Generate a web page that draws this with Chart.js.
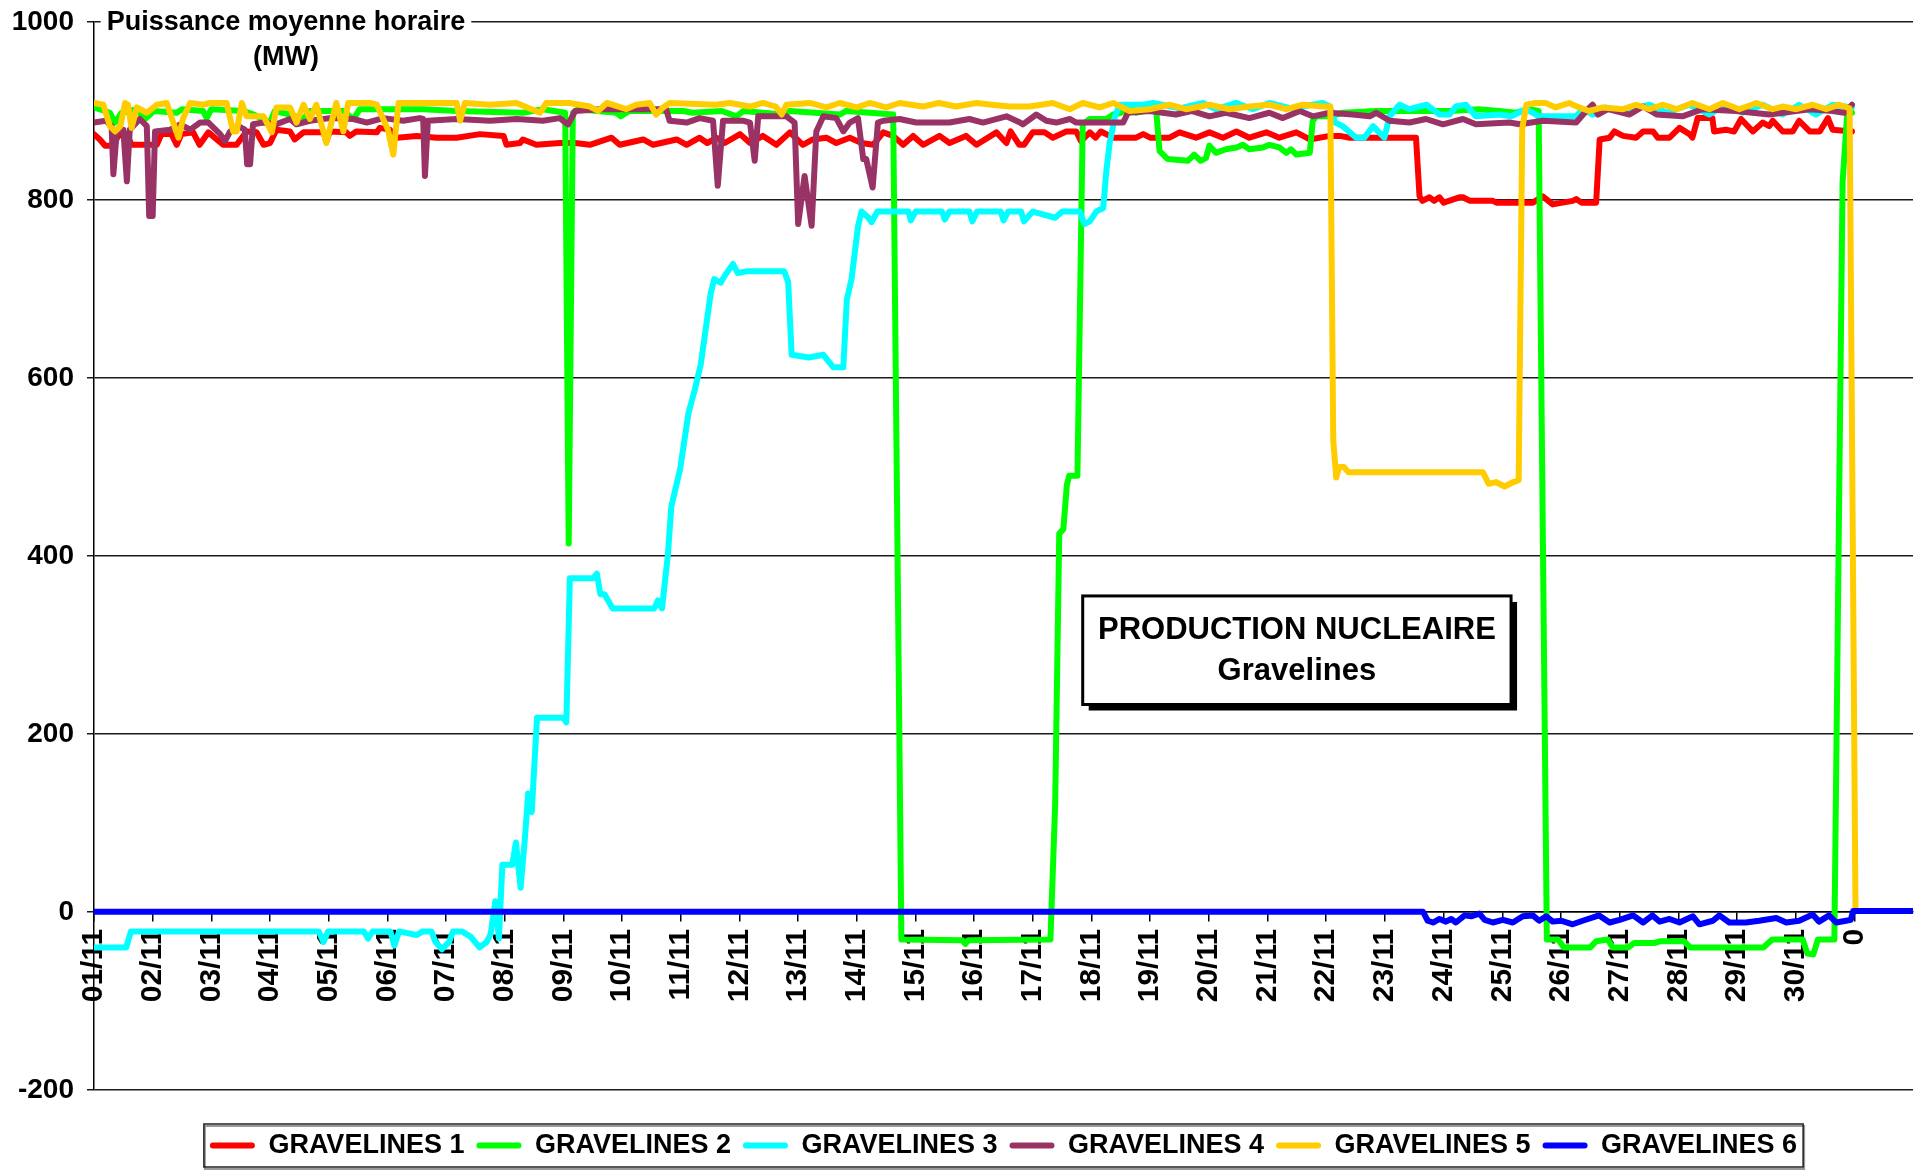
<!DOCTYPE html>
<html>
<head>
<meta charset="utf-8">
<title>Production nucléaire Gravelines</title>
<script src="https://cdn.jsdelivr.net/npm/chart.js@4.4.0/dist/chart.umd.min.js"></script>
<style>
  html, body { margin: 0; padding: 0; background: #fff; }
  canvas { display: block; }
</style>
</head>
<body>
<canvas id="prodChart" width="1922" height="1171"></canvas>
<script>
// jours (0 = 01/11 0h) et puissance en MW
const tickLabels = ["01/11", "02/11", "03/11", "04/11", "05/11", "06/11", "07/11", "08/11", "09/11", "10/11",
  "11/11", "12/11", "13/11", "14/11", "15/11", "16/11", "17/11", "18/11", "19/11", "20/11",
  "21/11", "22/11", "23/11", "24/11", "25/11", "26/11", "27/11", "28/11", "29/11", "30/11", "0"];

const seriesNames = ["GRAVELINES 1", "GRAVELINES 2", "GRAVELINES 3", "GRAVELINES 4", "GRAVELINES 5", "GRAVELINES 6"];
const seriesColors = ["#ff0000", "#00ff00", "#00ffff", "#993366", "#ffcc00", "#0000ff"];

const g1 = [[0,874],[0.1,868],[0.19,861],[0.33,861],[0.41,872],[0.56,874],[0.64,862],[1.07,862],[1.15,874],[1.32,874],[1.41,862],[1.49,874],[1.69,876],[1.8,862],[1.95,876],[2.2,862],[2.43,862],[2.6,877],[2.77,876],[2.89,862],[3.0,864],[3.11,879],[3.34,877],[3.42,868],[3.57,876],[3.91,876],[3.96,866],[4.02,877],[4.3,876],[4.36,872],[4.47,877],[4.82,876],[4.87,881],[5.04,879],[5.16,870],[5.5,872],[5.84,870],[6.18,870],[6.58,874],[6.98,872],[7.03,862],[7.26,864],[7.31,868],[7.54,862],[7.94,864],[8.2,864],[8.45,862],[8.82,870],[8.96,862],[9.36,868],[9.53,862],[9.93,868],[10.1,862],[10.32,870],[10.45,864],[10.61,870],[10.75,864],[11.01,874],[11.18,864],[11.4,872],[11.63,862],[11.86,876],[12.08,862],[12.25,868],[12.48,870],[12.65,864],[12.88,870],[13.08,864],[13.28,862],[13.45,876],[13.62,872],[13.79,862],[13.96,872],[14.13,862],[14.41,872],[14.58,864],[14.86,872],[15.04,862],[15.38,876],[15.55,864],[15.62,877],[15.77,862],[15.85,862],[16.0,876],[16.2,876],[16.34,870],[16.57,877],[16.74,877],[16.82,866],[16.97,876],[17.07,870],[17.16,877],[17.37,870],[17.76,870],[17.88,874],[18.0,870],[18.33,870],[18.5,876],[18.78,870],[19.01,876],[19.24,870],[19.47,877],[19.69,870],[19.98,876],[20.2,870],[20.49,876],[20.72,868],[21.06,872],[21.23,872],[21.4,870],[22.53,870],[22.59,804],[22.64,799],[22.76,803],[22.84,799],[22.93,803],[23.0,797],[23.27,803],[23.33,803],[23.45,799],[23.84,799],[23.9,797],[24.52,797],[24.69,804],[24.86,795],[25.2,799],[25.26,801],[25.35,797],[25.6,797],[25.66,868],[25.83,870],[25.91,877],[26.06,872],[26.28,870],[26.4,877],[26.57,877],[26.65,870],[26.85,870],[27.02,881],[27.19,874],[27.24,870],[27.33,892],[27.58,892],[27.61,877],[27.81,879],[27.95,877],[28.07,891],[28.27,877],[28.44,887],[28.55,883],[28.61,889],[28.78,877],[28.95,877],[29.06,889],[29.24,877],[29.41,877],[29.55,892],[29.63,879],[29.96,877]];

const g2 = [[0,904],[0.27,898],[0.36,887],[0.47,898],[0.73,902],[0.87,891],[1.02,900],[1.41,898],[1.5,902],[1.86,900],[1.92,892],[2.0,902],[2.55,900],[2.72,896],[3.0,887],[3.08,900],[3.34,896],[3.57,891],[3.68,900],[4.25,900],[4.42,891],[4.53,902],[5.61,902],[6.18,900],[7.31,898],[7.65,902],[8.03,898],[8.09,414],[8.16,898],[8.25,902],[8.9,898],[8.98,894],[9.12,900],[10.04,900],[10.2,898],[10.7,900],[10.95,894],[11.07,900],[11.74,896],[11.86,900],[12.71,896],[12.82,900],[13.22,898],[13.62,896],[13.76,-31],[14.8,-32],[14.85,-36],[14.9,-32],[16.3,-31],[16.38,120],[16.45,425],[16.52,430],[16.58,480],[16.62,490],[16.76,490],[16.85,885],[16.97,891],[17.25,891],[17.37,896],[17.5,898],[17.65,905],[17.76,898],[17.88,900],[17.99,905],[18.1,902],[18.16,855],[18.3,846],[18.64,844],[18.75,851],[18.86,844],[18.95,847],[19.01,861],[19.12,853],[19.29,857],[19.47,859],[19.58,862],[19.69,857],[19.92,859],[20.03,862],[20.2,859],[20.32,853],[20.4,857],[20.49,851],[20.72,853],[20.77,889],[20.83,894],[21.06,894],[21.28,898],[21.85,900],[23.1,900],[23.6,902],[23.95,900],[24.23,898],[24.46,902],[24.62,900],[24.76,-31],[24.95,-31],[25.05,-40],[25.5,-40],[25.6,-33],[25.8,-31],[25.88,-40],[26.15,-40],[26.25,-35],[26.6,-35],[26.7,-33],[27.1,-33],[27.2,-40],[28.45,-40],[28.6,-31],[29.12,-31],[29.2,-47],[29.3,-48],[29.38,-31],[29.66,-31],[29.8,820],[29.88,898],[29.96,898]];

const g3 = [[0,-40],[0.55,-40],[0.63,-22],[3.57,-22],[3.83,-22],[3.91,-34],[3.99,-22],[4.29,-22],[4.6,-22],[4.67,-30],[4.75,-22],[5.05,-22],[5.12,-38],[5.2,-22],[5.5,-26],[5.6,-22],[5.75,-22],[5.82,-34],[5.93,-42],[6.05,-34],[6.12,-22],[6.27,-22],[6.42,-28],[6.57,-40],[6.69,-34],[6.76,-25],[6.84,12],[6.9,-30],[6.96,53],[7.13,53],[7.19,78],[7.27,27],[7.34,80],[7.4,133],[7.46,112],[7.55,218],[8.0,218],[8.05,213],[8.11,375],[8.51,375],[8.57,380],[8.63,357],[8.7,357],[8.84,341],[9.55,341],[9.61,350],[9.68,341],[9.78,401],[9.84,456],[9.99,498],[10.13,560],[10.24,587],[10.34,615],[10.51,695],[10.57,711],[10.68,707],[10.76,716],[10.89,728],[10.97,718],[11.14,720],[11.76,720],[11.83,708],[11.89,626],[12.18,623],[12.43,626],[12.6,612],[12.77,612],[12.83,688],[12.91,711],[13.02,770],[13.08,787],[13.2,780],[13.25,775],[13.35,787],[13.88,787],[13.92,777],[14.0,787],[14.45,787],[14.5,778],[14.58,787],[14.92,787],[14.97,776],[15.05,787],[15.45,787],[15.5,777],[15.58,787],[15.8,787],[15.85,776],[16.0,787],[16.38,780],[16.5,787],[16.8,787],[16.88,773],[16.97,776],[17.08,787],[17.2,791],[17.25,831],[17.31,864],[17.4,894],[17.48,907],[17.88,907],[18.05,909],[18.5,903],[18.9,909],[19.12,902],[19.47,909],[19.75,902],[20.03,909],[20.4,903],[20.94,909],[21.06,905],[21.15,887],[21.28,883],[21.51,870],[21.65,870],[21.8,883],[21.9,876],[21.99,870],[22.08,894],[22.25,907],[22.42,902],[22.71,907],[22.93,896],[23.1,896],[23.21,905],[23.38,907],[23.55,894],[23.95,896],[24.15,894],[24.4,902],[24.63,894],[25.26,894],[25.37,902],[25.54,896],[25.75,904],[26.06,900],[26.51,907],[26.8,898],[27.19,907],[27.53,896],[27.81,907],[28.1,898],[28.44,907],[28.78,896],[29.06,907],[29.35,896],[29.63,907],[29.96,904]];

const g4 = [[0,887],[0.2,889],[0.3,883],[0.33,829],[0.39,879],[0.5,879],[0.56,821],[0.61,879],[0.78,891],[0.9,883],[0.94,782],[1.0,782],[1.04,877],[1.3,879],[1.47,885],[1.64,879],[1.81,887],[1.95,887],[2.15,874],[2.23,866],[2.32,877],[2.46,883],[2.57,879],[2.61,840],[2.66,840],[2.71,885],[2.89,887],[3.1,885],[3.34,891],[3.45,885],[3.68,889],[4.02,892],[4.42,891],[4.65,887],[4.93,892],[5.27,889],[5.55,892],[5.61,891],[5.64,827],[5.69,889],[6.18,891],[6.75,889],[7.2,891],[7.65,889],[7.94,892],[8.03,887],[8.08,885],[8.2,900],[8.62,902],[9.47,902],[9.75,902],[9.81,889],[10.1,887],[10.32,892],[10.55,889],[10.63,816],[10.72,889],[11.07,889],[11.18,887],[11.26,844],[11.32,894],[11.8,894],[11.94,887],[12.0,773],[12.11,827],[12.23,771],[12.31,877],[12.43,894],[12.65,892],[12.77,877],[12.88,887],[13.02,892],[13.11,846],[13.16,846],[13.27,814],[13.36,887],[13.45,889],[13.73,891],[14.01,887],[14.58,887],[14.92,891],[15.15,887],[15.55,894],[15.78,887],[15.83,885],[16.06,896],[16.23,889],[16.4,887],[16.63,891],[16.74,887],[17.54,887],[17.62,898],[17.99,900],[18.44,896],[18.7,900],[19.01,894],[19.29,898],[19.69,892],[20.03,898],[20.26,892],[20.55,900],[20.77,894],[21.06,898],[21.45,896],[21.74,894],[21.85,898],[22.08,889],[22.42,887],[22.7,891],[22.99,885],[23.33,891],[23.55,885],[24.12,887],[24.3,885],[24.69,889],[25.26,887],[25.43,900],[25.54,907],[25.63,896],[25.8,902],[26.17,896],[26.4,905],[26.63,896],[27.07,894],[27.41,902],[27.98,900],[28.55,896],[28.78,898],[29.24,902],[29.63,900],[29.83,898],[29.96,907]];

const g5 = [[0,909],[0.16,907],[0.27,883],[0.36,877],[0.45,883],[0.53,909],[0.58,907],[0.64,881],[0.73,904],[0.9,898],[1.07,907],[1.24,909],[1.35,887],[1.44,870],[1.52,892],[1.64,909],[1.86,907],[1.98,909],[2.26,909],[2.37,877],[2.43,877],[2.52,909],[2.6,894],[2.89,894],[3.03,876],[3.11,904],[3.34,904],[3.45,887],[3.57,907],[3.68,891],[3.79,907],[3.96,864],[4.13,909],[4.25,877],[4.33,909],[4.7,909],[4.82,907],[5.01,879],[5.1,851],[5.19,909],[5.61,909],[6.18,909],[6.24,889],[6.32,909],[6.75,907],[7.2,909],[7.6,898],[7.71,909],[8.1,909],[8.45,905],[8.59,900],[8.74,909],[9.07,902],[9.24,907],[9.47,909],[9.58,896],[9.7,904],[9.81,909],[10.6,907],[10.84,909],[11.18,905],[11.4,909],[11.62,905],[11.72,896],[11.8,907],[12.2,909],[12.48,904],[12.71,909],[13.0,904],[13.22,909],[13.5,904],[13.73,909],[14.13,905],[14.4,909],[14.69,905],[15.04,909],[15.3,907],[15.61,905],[15.94,905],[16.34,909],[16.63,902],[16.85,909],[17.14,904],[17.37,909],[17.65,900],[17.99,902],[18.33,907],[18.61,902],[19.01,907],[19.35,902],[19.69,905],[20.03,907],[20.32,902],[20.6,907],[20.94,905],[21.07,905],[21.12,530],[21.17,488],[21.22,500],[21.3,500],[21.38,494],[23.67,494],[23.77,481],[23.89,483],[24.04,478],[24.19,483],[24.28,485],[24.34,880],[24.41,907],[24.57,909],[24.74,909],[24.91,904],[25.14,909],[25.31,904],[25.48,900],[25.71,904],[26.06,902],[26.28,907],[26.51,902],[26.74,907],[26.97,902],[27.24,909],[27.53,902],[27.76,909],[28.04,902],[28.33,909],[28.61,902],[28.78,905],[29.01,902],[29.29,907],[29.52,902],[29.74,907],[29.92,903],[30.02,3]];

const g6 = [[0,0],[22.65,0],[22.73,-10],[22.82,-12],[22.93,-8],[23.04,-11],[23.13,-8],[23.21,-12],[23.36,-4],[23.47,-5],[23.61,-2],[23.7,-9],[23.84,-12],[24.01,-9],[24.18,-12],[24.35,-5],[24.52,-4],[24.63,-10],[24.75,-5],[24.86,-11],[25.0,-10],[25.2,-14],[25.37,-10],[25.65,-4],[25.83,-12],[26.0,-9],[26.23,-4],[26.4,-12],[26.56,-4],[26.68,-11],[26.85,-8],[27.02,-12],[27.25,-5],[27.36,-14],[27.59,-10],[27.7,-4],[27.87,-12],[28.15,-12],[28.38,-10],[28.67,-7],[28.84,-12],[29.06,-10],[29.29,-3],[29.4,-11],[29.57,-4],[29.69,-12],[29.86,-10],[29.94,-9],[29.98,1],[31,1]];

const series = [g1, g2, g3, g4, g5, g6];
const yTitle = ["Puissance moyenne horaire", "(MW)"];
const boxTitle = ["PRODUCTION NUCLEAIRE", "Gravelines"];

const FONT = '"Liberation Sans", Arial, sans-serif';
Chart.defaults.font.family = FONT;
Chart.defaults.font.weight = "bold";
Chart.defaults.color = "#000";

// titre de l'axe, encadré et cadre de légende
const decor = {
  id: "decor",
  afterDraw(chart) {
    const { ctx, chartArea, scales } = chart;
    ctx.save();
    ctx.textAlign = "center";
    ctx.textBaseline = "middle";

    ctx.font = "bold 27px " + FONT;
    const cx = chartArea.left + 192;
    const w = ctx.measureText(yTitle[0]).width;
    ctx.fillStyle = "#fff";
    ctx.fillRect(cx - w / 2 - 6, chartArea.top - 14, w + 12, 28);
    ctx.fillStyle = "#000";
    ctx.fillText(yTitle[0], cx, chartArea.top + 1);
    ctx.fillText(yTitle[1], cx, chartArea.top + 36);

    const x1 = scales.x.getPixelForValue(16.85);
    const x2 = scales.x.getPixelForValue(24.15);
    const y1 = scales.y.getPixelForValue(355);
    const y2 = scales.y.getPixelForValue(233);
    ctx.fillStyle = "#000";
    ctx.fillRect(x1 + 6, y1 + 6, x2 - x1, y2 - y1);
    ctx.fillStyle = "#fff";
    ctx.fillRect(x1, y1, x2 - x1, y2 - y1);
    ctx.lineWidth = 3;
    ctx.strokeStyle = "#000";
    ctx.strokeRect(x1, y1, x2 - x1, y2 - y1);
    ctx.fillStyle = "#000";
    ctx.font = "bold 31px " + FONT;
    ctx.fillText(boxTitle[0], (x1 + x2) / 2, y1 + 35);
    ctx.fillText(boxTitle[1], (x1 + x2) / 2, y1 + 76);

    const hb = chart.legend.legendHitBoxes;
    if (hb && hb.length) {
      const l = Math.min(...hb.map(b => b.left)) - 6;
      const r = Math.max(...hb.map(b => b.left + b.width)) + 6;
      const t = hb[0].top - 8;
      const b = hb[0].top + hb[0].height + 8;
      ctx.strokeStyle = "#999";
      ctx.lineWidth = 2;
      ctx.strokeRect(l + 1, t + 2, r - l, b - t);
      ctx.strokeStyle = "#222";
      ctx.lineWidth = 1.5;
      ctx.strokeRect(l, t, r - l, b - t);
    }
    ctx.restore();
  }
};

const ctx = document.getElementById("prodChart").getContext("2d");
const chart = new Chart(ctx, {
  type: "line",
  data: {
    datasets: seriesNames.map((name, i) => ({
      label: name,
      data: series[i].map(([x, y]) => ({ x: x, y: y })),
      borderColor: seriesColors[i],
      backgroundColor: seriesColors[i],
      borderWidth: 6,
      pointRadius: 0,
      tension: 0,
      borderJoinStyle: "round",
      borderCapStyle: "round",
      order: seriesNames.length - i,
    })),
  },
  options: {
    responsive: false,
    animation: false,
    layout: { padding: { top: 22, right: 9, bottom: 2, left: 0 } },
    scales: {
      x: {
        type: "linear",
        min: 0,
        max: 31,
        position: { y: 0 },
        afterBuildTicks: (axis) => {
          axis.ticks = tickLabels.map((_, i) => ({ value: i }));
        },
        ticks: {
          autoSkip: false,
          minRotation: 90,
          maxRotation: 90,
          padding: 8,
          font: { size: 30, weight: "bold" },
          callback: (v) => tickLabels[v],
        },
        grid: { drawOnChartArea: false, color: "#000", tickLength: 9, lineWidth: 1.5 },
        border: { color: "#000", width: 1.5 },
      },
      y: {
        min: -200,
        max: 1000,
        afterFit: (axis) => { axis.width = 94; },
        ticks: {
          stepSize: 200,
          padding: 13,
          font: { size: 28, weight: "bold", lineHeight: 0.6 },
          callback: (v) => String(v),
        },
        grid: { color: "#1a1a1a", lineWidth: 1.5, tickLength: 7 },
        border: { color: "#000", width: 1.5 },
      },
    },
    plugins: {
      tooltip: { enabled: false },
      legend: {
        position: "bottom",
        fullSize: false,
        title: { display: true, text: "", font: { size: 1 }, padding: { top: 29, bottom: 0 } },
        labels: {
          boxWidth: 45,
          boxHeight: 6,
          padding: 12,
          useBorderRadius: true,
          borderRadius: 3,
          font: { size: 27, weight: "bold" },
          sort: (a, b) => a.datasetIndex - b.datasetIndex,
          generateLabels(chart) {
            const items = Chart.defaults.plugins.legend.labels.generateLabels(chart);
            items.forEach((it) => { it.lineWidth = 0; it.fillStyle = it.strokeStyle; });
            return items;
          },
        },
      },
    },
  },
  plugins: [decor],
});
</script>
</body>
</html>
